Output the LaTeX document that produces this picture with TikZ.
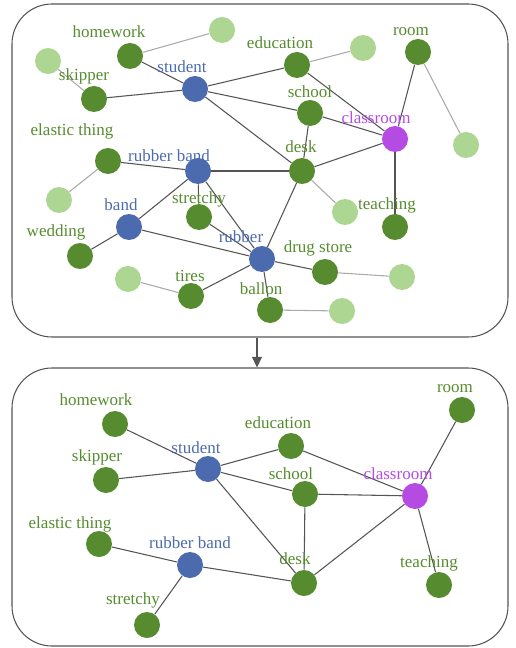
\documentclass[tikz,border=0pt]{standalone}
\usepackage{fontspec}
\setmainfont{Liberation Serif}
\usetikzlibrary{arrows.meta}
\definecolor{dkgreen}{HTML}{568C2F}
\definecolor{ltgreen}{HTML}{ADD692}
\definecolor{nblue}{HTML}{4C6BAE}
\definecolor{npurple}{HTML}{B64BE3}
\definecolor{edgegray}{HTML}{555555}
\definecolor{ltgray}{HTML}{AAAAAA}

\begin{document}
\begin{tikzpicture}[x=0.75pt,y=0.75pt,yscale=-1,xscale=1,
  dot/.style={circle,inner sep=0pt,minimum size=19.5pt},
  dk/.style={dot,fill=dkgreen},
  lt/.style={dot,fill=ltgreen},
  bl/.style={dot,fill=nblue},
  pu/.style={dot,fill=npurple},
  lab/.style={inner sep=0pt,font=\fontsize{12.75}{14}\selectfont,text=dkgreen},
  labb/.style={lab,text=nblue},
  labp/.style={lab,text=npurple},
  edge/.style={draw=edgegray,line width=0.8pt},
  ledge/.style={draw=ltgray,line width=0.8pt},
  panel/.style={draw=edgegray,line width=0.8pt,rounded corners=30pt,minimum width=372pt}]
\useasboundingbox (0,0) rectangle (515,648);

%Panels
\node[panel,minimum height=249.75pt] (top) at (260,170.5) {};
\node[panel,minimum height=208.5pt] (bot) at (260,507) {};
\draw[edge,-{Triangle[length=8pt,width=7.5pt]}] ([xshift=-2.25pt]top.south) -- ([xshift=-2.25pt]bot.north);

%Top graph: nodes
\node[dk] (hw) at (130,56) {};
\node[lt] (hwx) at (222,30) {};
\node[lt] (skx) at (48,61) {};
\node[dk] (sk) at (94,99) {};
\node[bl] (st) at (195,89) {};
\node[dk] (ed) at (297,65) {};
\node[lt] (edx) at (363,48) {};
\node[dk] (ro) at (418,52) {};
\node[lt] (rox) at (466,145) {};
\node[dk] (sc) at (310,113) {};
\node[pu] (cl) at (395,139) {};
\node[dk] (el) at (108,161) {};
\node[lt] (elx) at (59,200) {};
\node[bl] (rb) at (198,171) {};
\node[dk] (de) at (302,171) {};
\node[lt] (dex) at (345,212) {};
\node[dk] (te) at (395,227) {};
\node[bl] (ba) at (129,227) {};
\node[dk] (sy) at (199,217) {};
\node[dk] (we) at (80,256) {};
\node[bl] (ru) at (262,259) {};
\node[dk] (ds) at (325,272) {};
\node[lt] (dsx) at (402,277) {};
\node[lt] (tix) at (128,279) {};
\node[dk] (ti) at (191,296) {};
\node[dk] (bo) at (270,310) {};
\node[lt] (box) at (342,311) {};

%Top graph: edges
\draw[ledge] (hw) -- (hwx);
\draw[ledge] (sk) -- (skx);
\draw[ledge] (ed) -- (edx);
\draw[ledge] (ro) -- (rox);
\draw[ledge] (el) -- (elx);
\draw[ledge] (de) -- (dex);
\draw[ledge] (ds) -- (dsx);
\draw[ledge] (ti) -- (tix);
\draw[ledge] (bo) -- (box);
\draw[edge] (hw) -- (st);
\draw[edge] (sk) -- (st);
\draw[edge] (st) -- (ed);
\draw[edge] (st) -- (sc);
\draw[edge] (st) -- (de);
\draw[edge] (ed) -- (cl);
\draw[edge] (sc) -- (cl);
\draw[edge] (sc) -- (de);
\draw[edge] (ro) -- (cl);
\draw[edge] (cl) -- (de);
\draw[edge] (cl) -- (te);
\draw[edge] (el) -- (rb);
\draw[edge] (rb) -- (de);
\draw[edge] (rb) -- (ba);
\draw[edge] (rb) -- (sy);
\draw[edge] (rb) -- (ru);
\draw[edge] (ba) -- (we);
\draw[edge] (ba) -- (ru);
\draw[edge] (sy) -- (ru);
\draw[edge] (de) -- (ru);
\draw[edge] (ru) -- (ds);
\draw[edge] (ru) -- (ti);
\draw[edge] (ru) -- (bo);

%Top graph: labels
\node[lab] (l-hw) at (109,32) {homework};
\node[lab] (l-ed) at (280,43) {education};
\node[lab] (l-ro) at (411,32) {room};
\node[labb] (l-st) at (182,67) {student};
\node[lab] (l-sk) at (84,76) {skipper};
\node[lab] (l-sc) at (310,92) {school};
\node[labp] (l-cl) at (376,118) {classroom};
\node[lab] (l-el) at (72,131) {elastic thing};
\node[labb] (l-rb) at (169,156) {rubber band};
\node[lab] (l-de) at (301,147) {desk};
\node[lab] (l-te) at (387,205) {teaching};
\node[labb] (l-ba) at (121,205) {band};
\node[lab] (l-sy) at (199,199) {stretchy};
\node[lab] (l-we) at (56,232) {wedding};
\node[labb] (l-ru) at (241,237) {rubber};
\node[lab] (l-ds) at (318,248) {drug store};
\node[lab] (l-ti) at (190,276) {tires};
\node[lab] (l-bo) at (261,289) {ballon};

%Bottom graph: nodes
\node[dk] (hw2) at (115,424) {};
\node[dk] (ro2) at (462,410) {};
\node[dk] (ed2) at (291,446) {};
\node[bl] (st2) at (208,469) {};
\node[dk] (sk2) at (106,480) {};
\node[dk] (sc2) at (305,494) {};
\node[pu] (cl2) at (415,496) {};
\node[dk] (el2) at (99,544) {};
\node[bl] (rb2) at (190,565) {};
\node[dk] (de2) at (304,583) {};
\node[dk] (te2) at (439,585) {};
\node[dk] (sy2) at (147,625) {};

%Bottom graph: edges
\draw[edge] (hw2) -- (st2);
\draw[edge] (sk2) -- (st2);
\draw[edge] (st2) -- (ed2);
\draw[edge] (st2) -- (sc2);
\draw[edge] (st2) -- (de2);
\draw[edge] (ed2) -- (cl2);
\draw[edge] (sc2) -- (cl2);
\draw[edge] (sc2) -- (de2);
\draw[edge] (ro2) -- (cl2);
\draw[edge] (cl2) -- (de2);
\draw[edge] (cl2) -- (te2);
\draw[edge] (el2) -- (rb2);
\draw[edge] (rb2) -- (de2);
\draw[edge] (rb2) -- (sy2);

%Bottom graph: labels
\node[lab] (l-hw2) at (96,400) {homework};
\node[lab] (l-ro2) at (455,389) {room};
\node[lab] (l-ed2) at (278,423) {education};
\node[labb] (l-st2) at (196,448) {student};
\node[lab] (l-sk2) at (97,457) {skipper};
\node[lab] (l-sc2) at (291,474) {school};
\node[labp] (l-cl2) at (398,474) {classroom};
\node[lab] (l-el2) at (70,524) {elastic thing};
\node[labb] (l-rb2) at (190,543) {rubber band};
\node[lab] (l-de2) at (295,559) {desk};
\node[lab] (l-te2) at (429,563) {teaching};
\node[lab] (l-sy2) at (133,600) {stretchy};
\end{tikzpicture}
\end{document}
